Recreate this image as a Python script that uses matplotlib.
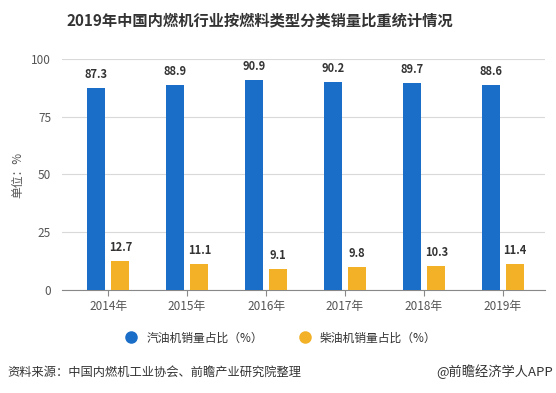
import matplotlib
matplotlib.use("Agg")
from matplotlib import pyplot as plt
from matplotlib.lines import Line2D
import numpy as np

plt.rcParams['font.family'] = ['Noto Sans CJK SC', 'DejaVu Sans']

years = ['2014年', '2015年', '2016年', '2017年', '2018年', '2019年']
gasoline = [87.3, 88.9, 90.9, 90.2, 89.7, 88.6]   # 汽油机
diesel = [12.7, 11.1, 9.1, 9.8, 10.3, 11.4]       # 柴油机
yticks = [0, 25, 50, 75, 100]

blue = '#1a6ec8'
orange = '#f2b126'

fig = plt.figure(figsize=(5.56, 3.93), dpi=100)
ax = fig.add_axes([0.112, 0.262, 0.868, 0.588])

x = np.arange(len(years))
w = 0.23
off = 0.155
b1 = ax.bar(x - off, gasoline, w, color=blue, zorder=3)
b2 = ax.bar(x + off, diesel, w, color=orange, zorder=3)

for rect, v in zip(list(b1) + list(b2), gasoline + diesel):
    ax.text(rect.get_x() + rect.get_width() / 2, v + 3, f'{v:.1f}',
            ha='center', va='bottom', fontsize=8, fontweight='bold', color='#333333')

ax.set_xlim(-0.58, 5.53)
ax.set_ylim(0, 100)
ax.set_yticks(yticks)
ax.set_xticks(x)
ax.set_xticklabels(years)
ax.grid(axis='y', color='#d9d9d9', linewidth=0.8, zorder=0)
for s in ['left', 'right', 'top']:
    ax.spines[s].set_visible(False)
ax.spines['bottom'].set_color('#888888')
ax.tick_params(axis='y', length=0, labelsize=8.5, colors='#555555', pad=8)
ax.tick_params(axis='x', length=4, color='#888888', labelsize=8.5, colors='#555555')
ax.set_ylabel('单位：%', fontsize=8.5, color='#555555')
ax.yaxis.set_label_coords(-0.078, 0.5)

fig.text(0.468, 0.949, '2019年中国内燃机行业按燃料类型分类销量比重统计情况',
         ha='center', va='center', fontsize=11, fontweight='bold', color='#333333')

handles = [Line2D([], [], marker='o', linestyle='', markersize=8, color=blue),
           Line2D([], [], marker='o', linestyle='', markersize=8, color=orange)]
fig.legend(handles, ['汽油机销量占比（%）', '柴油机销量占比（%）'], loc='center',
           bbox_to_anchor=(0.5, 0.14), ncol=2, frameon=False, fontsize=8.5,
           handletextpad=0.3, columnspacing=2.5, labelcolor='#333333')

fig.text(0.014, 0.053, '资料来源：中国内燃机工业协会、前瞻产业研究院整理',
         ha='left', va='center', fontsize=8.8, color='#333333')
fig.text(0.995, 0.053, '@前瞻经济学人APP',
         ha='right', va='center', fontsize=9.5, color='#333333')

fig.savefig('out.png', dpi=100)
